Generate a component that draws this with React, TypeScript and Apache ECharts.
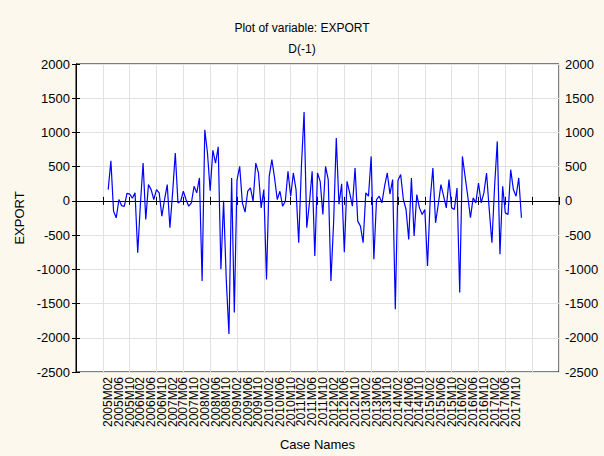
import React, { useEffect, useRef } from "react";
import * as echarts from "echarts";

// First difference D(-1) of EXPORT, monthly, 2005M02 .. 2017M12
const values: number[] = [
  165, 587, -150, -247, 20, -70, -80, 110, 100, 40,
  120, -757, -50, 553, -272, 238, 165, 20, 165, 117,
  -223, 20, 238, -393, 117, 699, -29, -5, 141, 20,
  -78, -29, 214, 117, 335, -1170, 1039, 700, 150, 740,
  550, 790, -1000, 0, -1150, -1946, 335, -1630, 300, 505,
  -29, -165, 141, 190, -5, 553, 408, -102, 165, -1150,
  359, 602, 335, 20, 141, -78, -5, 432, 68, 408,
  165, -611, 500, 1300, -393, -29, 432, -805, 408, 286,
  -199, 505, 311, -1170, -320, 917, -50, 250, -750, 286,
  117, -78, 480, -296, -369, -611, 117, 68, 650, -854,
  20, 68, -29, 214, 408, 100, 311, -1582, 300, 384,
  20, -126, -563, 335, -514, 92, -102, -199, -126, -951,
  20, 480, -320, -53, 238, 68, -102, 311, -102, -126,
  189, -1340, 650, 359, 68, -247, 44, -29, 262, -29,
  117, 408, -126, -611, 214, 869, -781, 214, -175, -199,
  456, 165, 68, 335, -247,
];

const startYear = 2005;
const startMonth = 2;
// Case names (months) for each observation
const caseNames: string[] = values.map((_, i) => {
  const m = startMonth - 1 + i;
  return `${startYear + Math.floor(m / 12)}M${String((m % 12) + 1).padStart(2, "0")}`;
});

const firstCase = 12; // case number of first observation on the x scale
const caseMin = 0;
const caseMax = 180;
const caseTickStep = 10;
const labelStep = 4;

const yMin = -2500;
const yMax = 2000;
const yStep = 500;

const titleText = "Plot of variable: EXPORT";
const subTitleText = "D(-1)";

export default function App() {
  const ref = useRef<HTMLDivElement>(null);
  useEffect(() => {
    document.body.style.margin = "0";
    const chart = echarts.init(ref.current!, null, { renderer: "svg" });
    const font = "'Liberation Sans', Arial, sans-serif";
    const black = "#000";
    const grid = "#E2E2E2";
    const yAxisBase = (pos: "left" | "right", split: boolean) => ({
      type: "value",
      position: pos,
      min: yMin,
      max: yMax,
      interval: yStep,
      axisLine: { show: true, lineStyle: { color: black, width: 1 } },
      axisTick: { show: true, inside: true, length: 4, lineStyle: { color: black } },
      axisLabel: {
        color: black,
        fontSize: 13,
        margin: 6,
        fontFamily: font,
        formatter: (v: number) => String(v),
      },
      splitLine: { show: split, lineStyle: { color: grid, width: 1 } },
    });
    chart.setOption({
      animation: false,
      backgroundColor: "#FCF8EE",
      textStyle: { fontFamily: font },
      title: [
        {
          text: titleText,
          left: "center",
          top: 17,
          textStyle: { fontSize: 12, fontWeight: "normal", color: black, fontFamily: font },
        },
        {
          text: subTitleText,
          left: "center",
          top: 38,
          textStyle: { fontSize: 12, fontWeight: "normal", color: black, fontFamily: font },
        },
      ],
      grid: {
        left: 76,
        right: 45,
        top: 64,
        bottom: 83,
        show: true,
        backgroundColor: "#FFFFFF",
        borderColor: black,
        borderWidth: 1,
      },
      xAxis: [
        {
          type: "value",
          position: "bottom",
          min: caseMin,
          max: caseMax,
          interval: caseTickStep,
          axisLine: { show: true, lineStyle: { color: black } },
          axisTick: { show: true, inside: true, length: 4, lineStyle: { color: black } },
          axisLabel: { show: false },
          splitLine: { show: true, lineStyle: { color: grid, width: 1 } },
          name: "Case Names",
          nameLocation: "middle",
          nameGap: 66,
          nameTextStyle: { fontSize: 13, color: black, fontFamily: font },
        },
        {
          type: "value",
          position: "top",
          min: caseMin,
          max: caseMax,
          interval: caseTickStep,
          axisLine: { show: true, lineStyle: { color: black } },
          axisTick: { show: true, inside: true, length: 4, lineStyle: { color: black } },
          axisLabel: { show: false },
          splitLine: { show: false },
        },
        {
          type: "value",
          position: "bottom",
          min: caseMin,
          max: caseMax,
          interval: labelStep,
          axisLine: { show: false },
          axisTick: { show: false },
          splitLine: { show: false },
          axisLabel: {
            rotate: 90,
            fontSize: 12,
            color: black,
            margin: 5,
            fontFamily: font,
            formatter: (v: number) => {
              const idx = Math.round(v) - firstCase;
              if (idx < 0 || idx >= caseNames.length || idx % labelStep !== 0) return "";
              return caseNames[idx];
            },
          },
        },
      ],
      yAxis: [
        {
          ...yAxisBase("left", true),
          name: "EXPORT",
          nameLocation: "middle",
          nameRotate: 90,
          nameGap: 50,
          nameTextStyle: { fontSize: 13, color: black, fontFamily: font },
        },
        yAxisBase("right", false),
      ],
      series: [
        {
          type: "line",
          xAxisIndex: 0,
          yAxisIndex: 0,
          data: values.map((v, i) => [firstCase + i, v]),
          showSymbol: false,
          symbol: "none",
          lineStyle: { color: "#0000FF", width: 1.2 },
        },
      ],
    });
    return () => chart.dispose();
  }, []);
  return <div ref={ref} style={{ position: "absolute", left: 0, top: 0, width: 604, height: 456 }} />;
}
